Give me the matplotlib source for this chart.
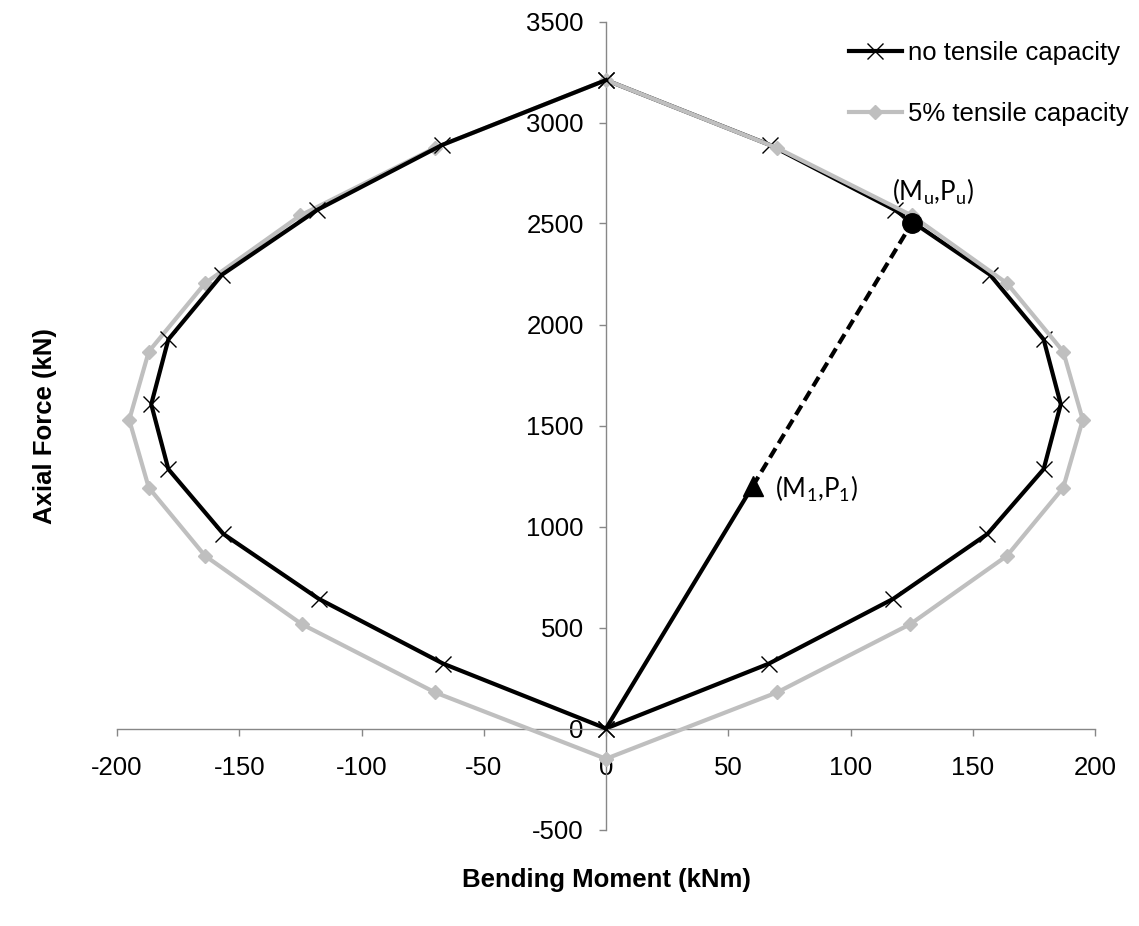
import matplotlib
matplotlib.use("Agg")
import matplotlib.pyplot as plt

# interaction diagram, no tensile capacity (start at origin, round the left side, back down the right)
nt_moment = [0, -66.6, -117.5, -156.5, -179, -186, -179, -157, -118, -67, 0,
             67, 118, 157, 179, 186, 179, 156, 117.5, 66.6, 0]
nt_axial = [0, 321, 642, 963, 1284, 1605, 1926, 2247, 2568, 2889, 3210,
            2889, 2568, 2247, 1926, 1605, 1284, 963, 642, 321, 0]

# 5% tensile capacity
t5_moment = [0, -70, -124.5, -164, -187, -195, -187, -164, -125, -70, 0,
             70, 125, 164, 187, 195, 187, 164, 124.5, 70, 0]
t5_axial = [-150, 179, 517, 855, 1192, 1528, 1866, 2204, 2540, 2874, 3210,
            2874, 2540, 2204, 1866, 1528, 1192, 855, 517, 179, -150]

# load path
load_m = [0, 60]
load_p = [0, 1200]
ult_m = [60, 125]
ult_p = [1200, 2500]

plt.rcParams['font.family'] = ['Liberation Sans', 'DejaVu Sans']
plt.rcParams['axes.unicode_minus'] = False
plt.rcParams['mathtext.fontset'] = 'custom'
plt.rcParams['mathtext.rm'] = 'Lato'

BLACK = '#000000'
GREY = '#BFBFBF'
AXC = '#878787'
FS = 18.5

fig = plt.figure(figsize=(11.39, 9.26), dpi=100)
ax = fig.add_axes([117 / 1139, 96.5 / 926, 978 / 1139, 808 / 926])

# right half of black curve sits under the grey one, left half on top
ax.plot(nt_moment[10:], nt_axial[10:], color=BLACK, lw=3, marker='x', ms=11, mew=1,
        zorder=2)
ax.plot(t5_moment, t5_axial, color=GREY, lw=3, marker='D', ms=7.5, zorder=3,
        label='5% tensile capacity')
ax.plot(nt_moment[:11], nt_axial[:11], color=BLACK, lw=3, marker='x', ms=11, mew=1,
        zorder=4, label='no tensile capacity')

ax.plot(load_m, load_p, color=BLACK, lw=3, zorder=5)
ax.plot(ult_m, ult_p, color=BLACK, lw=3, dashes=(2.6, 1.4), zorder=5)
ax.plot(load_m[1], load_p[1], marker='^', color=BLACK, ms=14, zorder=6)
ax.plot(ult_m[1], ult_p[1], marker='o', color=BLACK, ms=14, zorder=6)

ax.text(69, 1185, r'(M$_\mathrm{1}$,P$_\mathrm{1}$)', fontsize=18.5, family='Lato',
        va='center', ha='left')
ax.text(117, 2655, r'(M$_\mathrm{u}$,P$_\mathrm{u}$)', fontsize=18.5, family='Lato',
        va='center', ha='left')

ax.set_xlim(-200, 200)
ax.set_ylim(-500, 3500)
ax.set_xticks(range(-200, 201, 50))
ax.set_yticks(range(-500, 3501, 500))

for s in ['top', 'right']:
    ax.spines[s].set_visible(False)
ax.spines['left'].set_position(('data', 0))
ax.spines['bottom'].set_position(('data', 0))
for s in ['left', 'bottom']:
    ax.spines[s].set_color(AXC)
    ax.spines[s].set_linewidth(1)
ax.tick_params(axis='both', color=AXC, width=1, length=5, direction='out',
               labelsize=FS)
ax.tick_params(axis='x', pad=15)
ax.tick_params(axis='y', pad=11)

fig.text(45 / 1139, 1 - 426 / 926, 'Axial Force (kN)', rotation=90, fontsize=FS,
         fontweight='bold', ha='center', va='center')
fig.text(606 / 1139, 1 - 880 / 926, 'Bending Moment (kNm)', fontsize=FS,
         fontweight='bold', ha='center', va='center')

h, l = ax.get_legend_handles_labels()
ax.legend(h[::-1], l[::-1], loc='upper left', bbox_to_anchor=(849 / 1139, 1 - 41 / 926),
          bbox_transform=fig.transFigure, frameon=False, fontsize=FS,
          handlelength=2.05, handletextpad=0.25, labelspacing=1.45,
          borderpad=0, borderaxespad=0)

fig.savefig('out.png', dpi=100)
